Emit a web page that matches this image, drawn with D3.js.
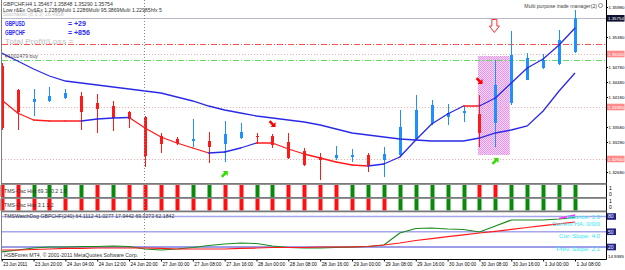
<!DOCTYPE html>
<html>
<head>
<meta charset="utf-8">
<script src="https://cdn.jsdelivr.net/npm/d3@7/dist/d3.min.js"></script>
<style>
  body { margin: 0; background: #fff; }
  svg { display: block; font-family: 'Liberation Sans', Arial, sans-serif; }
</style>
</head>
<body>
<div id="chart"></div>
<script>
// GBPCHF H4, 23 Jun 12:00 .. 1 Jul 08:00 (37 bars)
const timeLabels = ['23 Jun 2011', '23 Jun 20:00', '24 Jun 04:00', '24 Jun 12:00', '24 Jun 20:00',
  '27 Jun 00:00', '27 Jun 08:00', '27 Jun 16:00', '28 Jun 00:00', '28 Jun 08:00', '28 Jun 16:00',
  '29 Jun 00:00', '29 Jun 08:00', '29 Jun 16:00', '30 Jun 00:00', '30 Jun 08:00', '30 Jun 16:00',
  '1 Jul 00:00', '1 Jul 08:00']

const opens = [1.3480, 1.3432, 1.3408, 1.3410, 1.3416, 1.3420, 1.3406, 1.3400, 1.3388, 1.3378,
  1.3340, 1.3334, 1.3330, 1.3330, 1.3324, 1.3336, 1.3340, 1.3340, 1.3328, 1.3310,
  1.3298, 1.3296, 1.3298, 1.3302, 1.3292, 1.3302, 1.3334, 1.3366, 1.3378, 1.3386,
  1.3384, 1.3366, 1.3406, 1.3452, 1.3476, 1.3484, 1.3508]
const highs = [1.3486, 1.3434, 1.3434, 1.3438, 1.3434, 1.3428, 1.3424, 1.3410, 1.3390, 1.3380,
  1.3346, 1.3338, 1.3374, 1.3348, 1.3370, 1.3366, 1.3346, 1.3344, 1.3346, 1.3316,
  1.3306, 1.3320, 1.3314, 1.3306, 1.3318, 1.3392, 1.3422, 1.3412, 1.3404, 1.3402,
  1.3422, 1.3492, 1.3550, 1.3506, 1.3504, 1.3552, 1.3592]
const lows = [1.3352, 1.3352, 1.3380, 1.3408, 1.3414, 1.3352, 1.3346, 1.3350, 1.3356, 1.3278,
  1.3306, 1.3322, 1.3318, 1.3286, 1.3288, 1.3334, 1.3324, 1.3316, 1.3294, 1.3280,
  1.3252, 1.3292, 1.3288, 1.3268, 1.3258, 1.3298, 1.3332, 1.3362, 1.3362, 1.3368,
  1.3318, 1.3318, 1.3402, 1.3452, 1.3474, 1.3482, 1.3506]
const closes = [1.3356, 1.3388, 1.3414, 1.3420, 1.3426, 1.3388, 1.3394, 1.3376, 1.3374, 1.3300,
  1.3324, 1.3326, 1.3334, 1.3318, 1.3344, 1.3348, 1.3338, 1.3322, 1.3296, 1.3282,
  1.3292, 1.3302, 1.3302, 1.3282, 1.3304, 1.3358, 1.3392, 1.3402, 1.3386, 1.3390,
  1.3346, 1.3442, 1.3502, 1.3496, 1.3492, 1.3532, 1.35754]

const fastMa = [1.3412, 1.3386, 1.3372, 1.3370, 1.3370, 1.3370, 1.3374, 1.3376, 1.3377, 1.3356,
  1.3338, 1.3326, 1.3316, 1.3306, 1.3308, 1.3316, 1.3326, 1.3326, 1.3314, 1.3304,
  1.3296, 1.3288, 1.3282, 1.3280, 1.3284, 1.3298, 1.3332, 1.3364, 1.3384, 1.3400,
  1.3400, 1.3416, 1.3446, 1.3476, 1.3494, 1.3522, 1.3556]
const slowMa = [1.3506, 1.3490, 1.3474, 1.3460, 1.3450, 1.3446, 1.3442, 1.3438, 1.3434, 1.3430,
  1.3426, 1.3418, 1.3410, 1.3400, 1.3392, 1.3386, 1.3380, 1.3376, 1.3372, 1.3368,
  1.3362, 1.3354, 1.3346, 1.3342, 1.3338, 1.3334, 1.3332, 1.3330, 1.3330, 1.3330,
  1.3336, 1.3346, 1.3352, 1.3360, 1.3390, 1.3430, 1.3466]

// oscillator histograms: 1 = up (green), 0 = down (red)
const oscHistA = [0, 0, 1, 1, 1, 1, 0, 1, 0, 0, 0, 0, 1, 1, 0, 0, 1, 1, 0, 0,
  0, 0, 1, 1, 1, 1, 1, 1, 1, 1, 0, 0, 1, 1, 1, 1, 1]
const oscHistB = [0, 0, 0, 0, 0, 0, 0, 0, 0, 0, 0, 0, 0, 0, 0, 0, 0, 0, 0, 0,
  0, 0, 0, 0, 0, 1, 1, 1, 1, 1, 1, 1, 1, 1, 1, 1, 1]

// watchdog window
const wdGreen = [10.2, 14.1, 18.0, 20.0, 20.0, 21.0, 21.0, 22.0, 21.0, 16.1,
  14.1, 16.1, 19.0, 23.0, 25.9, 27.9, 26.9, 22.0, 19.0, 18.0,
  18.0, 19.0, 20.0, 21.0, 23.9, 47.5, 56.4, 57.4, 55.4, 54.4,
  49.5, 61.3, 73.1, 73.1, 73.1, 75.1, 78.0]
const wdRed = [14.1, 14.1, 15.1, 16.1, 17.1, 17.1, 18.0, 18.0, 18.0, 18.0,
  17.1, 16.1, 16.1, 16.1, 16.1, 17.1, 18.0, 19.0, 19.0, 19.0,
  20.0, 20.0, 20.0, 21.0, 23.9, 27.9, 32.8, 36.5, 40.3, 44.0,
  47.5, 50.9, 54.6, 58.4, 62.1, 65.6, 69.2]
const wdBounce = [{ i: 35, v: 76.1 }, { i: 36, v: 83.0 }]
const wdLevels = [80, 50, 20]
const wdInfo = ['Bounce: 1.9', 'Current HA: 0/0/0', 'Cur. Slope: 4.0', 'Prev. Slope: 2.1']

const priceTicks = [1.3598, 1.3568, 1.3538, 1.3508, 1.3478, 1.3448, 1.3418, 1.3388, 1.3358, 1.3328, 1.3298, 1.3268]
const orderPrices = [1.3524, 1.3504, 1.3492, 1.3398, 1.3294]
const orderKinds = ['tp', 'level', 'buy', 'level', 'level']
const sellArrows = [{ i: 17, price: 1.3364 }, { i: 30, price: 1.3450 }]
const buyArrows = [{ i: 14, price: 1.3264 }, { i: 31, price: 1.3290 }]
const closeArrow = { i: 31, price: 1.3560 }
const zone = { from: 30, to: 32, top: 1.3500, bottom: 1.3302 }
const profits = [['GBPUSD', '= +29'], ['GBPCHF', '= +856']]

const W = 625
const H = 270
const plotRight = 606
const mainBottom = 183
const blue = '#2a2ae6'
const red = '#ff1a1a'
const candleBlue = '#1e90ff'
const axisFont = 4.4
const fmt = d3.format('.5f')

const x = d3.scaleLinear().domain([0, 36]).range([1.7, 575])
const y = d3.scaleLinear().domain([1.3598, 1.3246]).range([7, 183])
const wdY = d3.scaleLinear().domain([80, 20]).range([216.5, 247])

const svg = d3.select('#chart').append('svg')
  .attr('width', W)
  .attr('height', H)

const defs = svg.append('defs')
defs.append('clipPath').attr('id', 'clipMain')
  .append('rect').attr('x', 2).attr('y', 0).attr('width', plotRight - 2).attr('height', mainBottom)
defs.append('clipPath').attr('id', 'clipWd')
  .append('rect').attr('x', 2).attr('y', 212).attr('width', plotRight - 2).attr('height', 47)
const pat = defs.append('pattern').attr('id', 'zoneFill')
  .attr('width', 2).attr('height', 2).attr('patternUnits', 'userSpaceOnUse')
pat.append('rect').attr('width', 2).attr('height', 2).attr('fill', '#f8d2f8')
pat.append('rect').attr('width', 1).attr('height', 1).attr('fill', '#dc9ae6')
pat.append('rect').attr('x', 1).attr('y', 1).attr('width', 1).attr('height', 1).attr('fill', '#e39ae0')

svg.append('rect').attr('width', W).attr('height', H).attr('fill', '#fff')

// ---- main window
const main = svg.append('g').attr('clip-path', 'url(#clipMain)')

// highlighted zone
main.append('rect')
  .attr('x', x(zone.from) - 1.5)
  .attr('y', y(zone.top))
  .attr('width', x(zone.to) - x(zone.from))
  .attr('height', y(zone.bottom) - y(zone.top))
  .attr('fill', 'url(#zoneFill)')

// bid line
main.append('line')
  .attr('x1', 2).attr('x2', plotRight)
  .attr('y1', Math.round(y(closes[36])) + 0.5).attr('y2', Math.round(y(closes[36])) + 0.5)
  .attr('stroke', '#b8b8c8')

const lineStyle = {
  tp: { color: '#ff5050', dash: '6,2,1,2' },
  buy: { color: '#66d866', dash: '6,2,1,2' },
  level: { color: '#ffaaaa', dash: '1,2' }
}
main.selectAll('line.order').data(orderPrices).join('line')
  .attr('class', 'order')
  .attr('x1', 2).attr('x2', plotRight)
  .attr('y1', d => Math.round(y(d)) + 0.5).attr('y2', d => Math.round(y(d)) + 0.5)
  .attr('stroke', (d, i) => lineStyle[orderKinds[i]].color)
  .attr('stroke-dasharray', (d, i) => lineStyle[orderKinds[i]].dash)

// candles
const candles = opens.map((o, i) => ({ i, o, h: highs[i], l: lows[i], c: closes[i] }))
const cg = main.selectAll('g.candle').data(candles).join('g').attr('class', 'candle')
cg.append('line')
  .attr('x1', d => Math.round(x(d.i)) + 0.5).attr('x2', d => Math.round(x(d.i)) + 0.5)
  .attr('y1', d => y(d.h)).attr('y2', d => y(d.l))
  .attr('stroke', d => d.c >= d.o ? candleBlue : red)
cg.append('rect')
  .attr('x', d => Math.round(x(d.i)) - 1)
  .attr('width', 3)
  .attr('y', d => y(Math.max(d.o, d.c)))
  .attr('height', d => Math.max(1, Math.abs(y(d.o) - y(d.c))))
  .attr('fill', d => d.c >= d.o ? candleBlue : red)

// moving averages
main.append('path')
  .datum(slowMa)
  .attr('d', d3.line().x((d, i) => x(i)).y(d => y(d)))
  .attr('fill', 'none')
  .attr('stroke', blue)
  .attr('stroke-width', 1.3)

main.selectAll('line.fast').data(d3.pairs(fastMa)).join('line')
  .attr('class', 'fast')
  .attr('x1', (d, i) => x(i)).attr('x2', (d, i) => x(i + 1))
  .attr('y1', d => y(d[0])).attr('y2', d => y(d[1]))
  .attr('stroke', d => d[1] > d[0] ? blue : red)
  .attr('stroke-width', 1.3)
  .attr('stroke-linecap', 'round')

// signal arrows
const arrowPath = 'M-4,-1.3 L0.8,-1.3 L0.8,-3.6 L4.4,0 L0.8,3.6 L0.8,1.3 L-4,1.3 Z'
main.selectAll('path.sell').data(sellArrows).join('path')
  .attr('class', 'sell')
  .attr('d', arrowPath)
  .attr('transform', d => `translate(${x(d.i)},${y(d.price)}) rotate(45)`)
  .attr('fill', '#ff0000')
main.selectAll('path.buy').data(buyArrows).join('path')
  .attr('class', 'buy')
  .attr('d', arrowPath)
  .attr('transform', d => `translate(${x(d.i)},${y(d.price)}) rotate(-45)`)
  .attr('fill', '#33dd00')
main.append('path')
  .attr('d', 'M-2.5,-6.5 L2.5,-6.5 L2.5,0 L5,0 L0,6.5 L-5,0 L-2.5,0 Z')
  .attr('transform', `translate(${x(closeArrow.i) - 1},${y(closeArrow.price)})`)
  .attr('fill', '#fff')
  .attr('stroke', '#ff3030')
  .attr('stroke-width', 1)

// header texts
const hdr = svg.append('g').attr('fill', '#333').attr('font-size', 5.2)
hdr.append('text').attr('x', 3).attr('y', 6).text('GBPCHF,H4  1.35467 1.35848 1.35290 1.35754')
hdr.append('text').attr('x', 3).attr('y', 11.5).text('Low r&Ex Ov&Ex 1.2286Multi 1.2286Multi 95.3869Multi 1.22985hfx 5')
hdr.append('text').attr('x', 3).attr('y', 16).attr('fill', '#c4c4c4').text('Stochastic (8,3,3) 16.4958')
hdr.append('text').attr('x', 5).attr('y', 58).attr('fill', '#555').text('#1002479 buy')
hdr.append('text').attr('x', 597).attr('y', 7.5).attr('text-anchor', 'end').attr('fill', '#444')
  .text('Multi purpose trade manager(2)')
hdr.append('circle').attr('cx', 600.5).attr('cy', 5.5).attr('r', 2).attr('fill', 'none').attr('stroke', '#666').attr('stroke-width', 0.7)

const pl = svg.append('g').attr('font-size', 7).attr('font-weight', 'bold').attr('fill', '#2b2bff')
profits.forEach((p, k) => {
  pl.append('text').attr('x', 5).attr('y', 26 + k * 9).attr('textLength', 20).attr('lengthAdjust', 'spacingAndGlyphs').text(p[0])
  pl.append('text').attr('x', 68).attr('y', 26 + k * 9).text(p[1])
})
pl.append('text').attr('x', 5).attr('y', 44).attr('fill', '#cfcfcf').attr('textLength', 68).attr('lengthAdjust', 'spacingAndGlyphs').text('Total Profit/Loss =')

// price axis (tick labels hidden where a price tag sits)
const tagPrices = orderPrices.filter((p, i) => orderKinds[i] === 'level').concat([closes[36]])
const shownTicks = priceTicks.filter(t => tagPrices.every(p => Math.abs(y(p) - y(t)) > 7))
const axisG = svg.append('g')
  .attr('transform', `translate(${plotRight},0)`)
  .call(d3.axisRight(y).tickValues(shownTicks).tickFormat(fmt).tickSize(2).tickPadding(0.5))
axisG.select('.domain').remove()
axisG.selectAll('text')
  .attr('font-size', axisFont)
  .attr('font-family', 'Liberation Sans, Arial, sans-serif')
  .attr('fill', '#000')
axisG.selectAll('line').attr('stroke', '#000')

const tagG = svg.append('g').attr('font-size', axisFont)
tagPrices.forEach((p, i) => {
  const last = i === tagPrices.length - 1
  tagG.append('rect').attr('x', plotRight + 1).attr('y', y(p) - 3.3).attr('width', 17.5).attr('height', 6.6)
    .attr('fill', last ? '#101030' : '#ff8a8a')
  tagG.append('text').attr('x', plotRight + 2).attr('y', y(p) + 1.6).attr('fill', '#fff').text(fmt(p))
})

// ---- oscillator histograms
const histRows = [{ data: oscHistA, top: 185, bottom: 197, label: 'TMS-Osc Hist 69.3 -0.2 1.0' },
  { data: oscHistB, top: 198.5, bottom: 210.5, label: 'TMS-Osc Hist 3.1 1.2' }]
histRows.forEach(row => {
  const hy = d3.scaleLinear().domain([0, 1]).range([row.bottom, row.top])
  const g = svg.append('g')
  g.selectAll('rect').data(row.data).join('rect')
    .attr('x', (d, i) => Math.round(x(i)) - 1.5)
    .attr('width', 4)
    .attr('y', hy(1))
    .attr('height', hy(0) - hy(1))
    .attr('fill', d => d ? '#0a8a0a' : '#ff1010')
  g.append('text').attr('x', 4).attr('y', row.top + 8).attr('font-size', 5.2).attr('fill', '#333').text(row.label)
  g.append('text').attr('x', plotRight + 3).attr('y', hy(1) + 4.5).attr('font-size', 5).text('1')
  g.append('text').attr('x', plotRight + 3).attr('y', hy(0) - 1.5).attr('font-size', 5).text('0')
})

// ---- watchdog window
const wd = svg.append('g')
const wdLevelColor = ['#a6a6ec', '#a6a6ec', '#3a3ad0']
wd.selectAll('line.lvl').data(wdLevels).join('line')
  .attr('class', 'lvl')
  .attr('x1', 2).attr('x2', plotRight)
  .attr('y1', d => wdY(d)).attr('y2', d => wdY(d))
  .attr('stroke', (d, i) => wdLevelColor[i])
  .attr('stroke-width', (d, i) => i < 2 ? 1.5 : 1)

const wdLines = wd.append('g').attr('clip-path', 'url(#clipWd)')
const wdLine = d3.line().x((d, i) => x(i)).y(d => wdY(d))
wdLines.append('path').datum(wdGreen).attr('d', wdLine).attr('fill', 'none').attr('stroke', '#1a8a1a').attr('stroke-width', 1.2)
wdLines.append('path').datum(wdRed).attr('d', wdLine).attr('fill', 'none').attr('stroke', '#ff1a1a').attr('stroke-width', 1.2)
wdLines.append('path').datum(wdBounce)
  .attr('d', d3.line().x(d => x(d.i)).y(d => wdY(d.v)))
  .attr('fill', 'none').attr('stroke', '#ff33ff').attr('stroke-width', 1.4)

wd.append('text').attr('x', 4).attr('y', 218).attr('font-size', 5.2).attr('fill', '#333')
  .text('TMSWatchDog GBPCHF(240) 64.1112 41.0277 17.9442 69.3273 62.1842')
wd.append('text').attr('x', 4).attr('y', 257).attr('font-size', 5.2).attr('fill', '#333')
  .text('HSBForex MT4, \u00a9 2001-2011 MetaQuotes Software Corp.')

const infoY = [219, 225.5, 238, 251]
wd.selectAll('text.info').data(wdInfo).join('text')
  .attr('class', 'info')
  .attr('x', 600).attr('y', (d, i) => infoY[i])
  .attr('text-anchor', 'end')
  .attr('font-size', 6.2)
  .attr('fill', '#2ee6f2')
  .text(d => d)

wdLevels.forEach(v => {
  wd.append('rect').attr('x', plotRight + 1).attr('y', wdY(v) - 3.3).attr('width', 9).attr('height', 6.6).attr('fill', '#22228a')
  wd.append('text').attr('x', plotRight + 2).attr('y', wdY(v) + 1.8).attr('font-size', 5).attr('fill', '#fff').text(v)
})
wd.append('text').attr('x', plotRight + 2).attr('y', 257.5).attr('font-size', axisFont).text('14.9385')

// ---- frame, separators, period separator
const frame = svg.append('g')
frame.append('line').attr('x1', 1.5).attr('x2', 1.5).attr('y1', 0).attr('y2', 259.5).attr('stroke', '#808080')
frame.append('line').attr('x1', plotRight + 0.5).attr('x2', plotRight + 0.5).attr('y1', 0).attr('y2', 259.5).attr('stroke', '#000')
frame.append('line').attr('x1', 1.5).attr('x2', plotRight + 0.5).attr('y1', 259.5).attr('y2', 259.5).attr('stroke', '#000')
const seps = [183, 197, 210.5]
frame.selectAll('rect.sep').data(seps).join('rect')
  .attr('class', 'sep')
  .attr('x', 1.5).attr('width', plotRight - 1)
  .attr('y', d => d).attr('height', 1.8)
  .attr('fill', '#7a7a7a')
frame.append('line')
  .attr('x1', Math.round(x(9)) - 0.5).attr('x2', Math.round(x(9)) - 0.5)
  .attr('y1', 0).attr('y2', 259)
  .attr('stroke', '#888').attr('stroke-dasharray', '1,2')

// ---- time axis
const timeAxis = svg.append('g')
  .attr('transform', 'translate(0,259.5)')
  .call(d3.axisBottom(x).tickValues(d3.range(0, 37, 2)).tickFormat((d, i) => timeLabels[i]).tickSize(2).tickPadding(1))
timeAxis.select('.domain').remove()
timeAxis.selectAll('line').attr('stroke', '#000')
timeAxis.selectAll('text')
  .attr('text-anchor', 'start')
  .attr('dx', 1)
  .attr('font-size', 5)
  .attr('font-family', 'Liberation Sans, Arial, sans-serif')
  .attr('fill', '#000')
  .attr('textLength', (d, i) => timeLabels[i].length > 11 ? 27 : 24)
  .attr('lengthAdjust', 'spacingAndGlyphs')
</script>
</body>
</html>
